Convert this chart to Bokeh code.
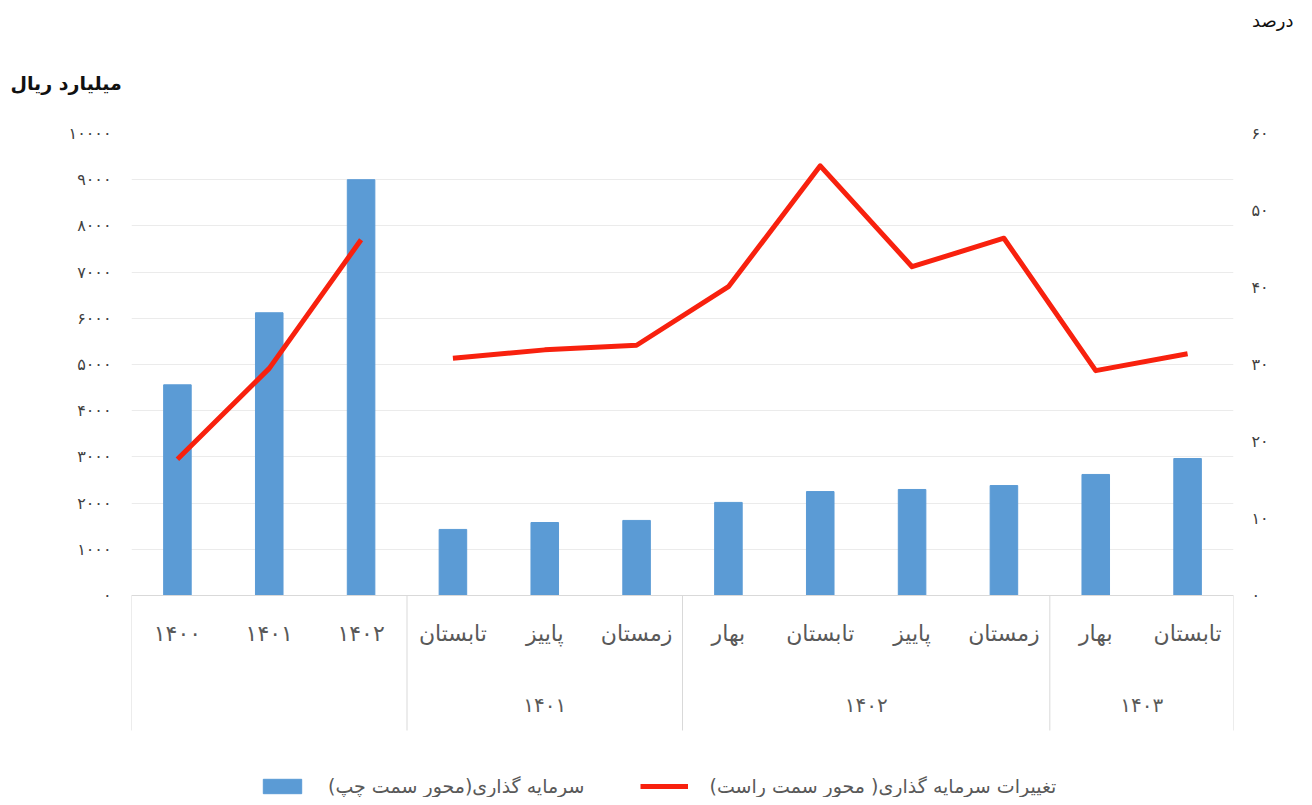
from bokeh.plotting import figure
from bokeh.models import (FactorRange, Range1d, LinearAxis, FixedTicker, Legend,
                          LegendItem, Title, ColumnDataSource)
from bokeh.transform import dodge
from bokeh.embed import file_html
from bokeh.resources import INLINE

# ---------------- data ----------------
groups = ["", "", "", "۱۴۰۱", "۱۴۰۱", "۱۴۰۱", "۱۴۰۲", "۱۴۰۲", "۱۴۰۲", "۱۴۰۲", "۱۴۰۳", "۱۴۰۳"]
periods = ["۱۴۰۰", "۱۴۰۱", "۱۴۰۲", "تابستان", "پاییز", "زمستان",
           "بهار", "تابستان", "پاییز", "زمستان", "بهار", "تابستان"]
investment = [4560, 6120, 9000, 1430, 1580, 1625, 2015, 2250, 2295, 2380, 2620, 2965]
change_annual = [17.7, 29.5, 46.2]
change_quarterly = [30.8, 31.9, 32.5, 40.1, 55.8, 42.7, 46.4, 29.2, 31.4]
left_ticks = [0, 1000, 2000, 3000, 4000, 5000, 6000, 7000, 8000, 9000, 10000]
left_tick_labels = ["۰", "۱۰۰۰", "۲۰۰۰", "۳۰۰۰", "۴۰۰۰", "۵۰۰۰", "۶۰۰۰", "۷۰۰۰", "۸۰۰۰", "۹۰۰۰", "۱۰۰۰۰"]
right_ticks = [0, 10, 20, 30, 40, 50, 60]
right_tick_labels = ["۰", "۱۰", "۲۰", "۳۰", "۴۰", "۵۰", "۶۰"]
group_starts = [0, 3, 6, 10]     # indices of first factor of each category group
left_title = "میلیارد ریال"
right_title = "درصد"
bar_name = "سرمایه گذاری(محور سمت چپ)"
line_name = "تغییرات سرمایه گذاری( محور سمت راست)"

FONT = "DejaVu Sans"
BLUE = "#5B9BD5"
RED = "#F8210E"
GREY = "#595959"
DARK = "#404040"
LIGHT = "#D9D9D9"

# ---------------- layout numbers (pixels) ----------------
W, H = 1296, 797
TOP, LEFT, RIGHT = 133, 131, 63
ZERO_PX = 462          # distance from frame top to the value-axis zero line
SEP_PX = 135           # separator length below the zero line
frame_h = H - TOP
left_max, right_max = 10000, 60
left_start = -(frame_h - ZERO_PX) / ZERO_PX * left_max
right_start = -(frame_h - ZERO_PX) / ZERO_PX * right_max
sep_end = -SEP_PX / ZERO_PX * left_max

# a blank middle level only adds vertical room between the two label rows
SPACER = " "
factors = [(g, SPACER, q) for g, q in zip(groups, periods)]
annual_x = factors[:3]
quarter_x = factors[3:]

p = figure(x_range=FactorRange(*factors, factor_padding=0, group_padding=0,
                               subgroup_padding=0, range_padding=0),
           y_range=Range1d(left_start, left_max),
           width=W, height=H, output_backend="svg", toolbar_location=None,
           min_border_left=LEFT, min_border_right=RIGHT, min_border_top=TOP,
           min_border_bottom=0)
p.outline_line_color = None
p.extra_y_ranges = {"pct": Range1d(right_start, right_max)}

src = ColumnDataSource(dict(x=factors, y=investment))
bars = p.vbar(x="x", top="y", width=0.3, source=src, color=BLUE)

l1 = p.line(x=annual_x, y=change_annual, y_range_name="pct", line_color=RED,
            line_width=5, line_join="round")
l2 = p.line(x=quarter_x, y=change_quarterly, y_range_name="pct", line_color=RED,
            line_width=5, line_join="round")

# group separators below the category axis
sep_src = ColumnDataSource(dict(x=[factors[i] for i in group_starts],
                                y0=[0] * len(group_starts),
                                y1=[sep_end] * len(group_starts)))
p.segment(x0=dodge("x", -0.5, range=p.x_range), x1=dodge("x", -0.5, range=p.x_range),
          y0="y0", y1="y1", source=sep_src, line_color=LIGHT, line_width=1)
end_src = ColumnDataSource(dict(x=[factors[-1]], y0=[0], y1=[sep_end]))
p.segment(x0=dodge("x", 0.5, range=p.x_range), x1=dodge("x", 0.5, range=p.x_range),
          y0="y0", y1="y1", source=end_src, line_color=LIGHT, line_width=1)

# grids
p.xgrid.grid_line_color = None
p.ygrid.ticker = FixedTicker(ticks=left_ticks)
p.ygrid.grid_line_color = "#EBEBEB"

# left axis
ya = p.yaxis[0]
ya.ticker = FixedTicker(ticks=left_ticks)
ya.major_label_overrides = {t: s for t, s in zip(left_ticks, left_tick_labels)}
ya.axis_line_color = None
ya.major_tick_line_color = None
ya.minor_tick_line_color = None
ya.major_label_standoff = 14
ya.major_label_text_font = FONT
ya.major_label_text_font_size = "16px"
ya.major_label_text_color = DARK

# right axis
ra = LinearAxis(y_range_name="pct", ticker=FixedTicker(ticks=right_ticks))
ra.major_label_overrides = {t: s for t, s in zip(right_ticks, right_tick_labels)}
ra.axis_line_color = None
ra.major_tick_line_color = None
ra.minor_tick_line_color = None
ra.major_label_standoff = 12
ra.major_label_text_font = FONT
ra.major_label_text_font_size = "16px"
ra.major_label_text_color = DARK
p.add_layout(ra, "right")

# x axis (categorical, nested levels) sitting on the zero line
xa = p.xaxis[0]
xa.fixed_location = 0
xa.axis_line_color = LIGHT
xa.major_tick_line_color = None
xa.minor_tick_line_color = None
xa.major_label_text_font = FONT
xa.major_label_text_font_size = "22px"
xa.major_label_text_color = GREY
xa.major_label_standoff = 19
xa.subgroup_text_font = FONT
xa.subgroup_text_font_size = "3px"
xa.subgroup_text_color = GREY
xa.subgroup_text_font_style = "normal"
xa.group_text_font = FONT
xa.group_text_font_size = "20px"
xa.group_text_color = GREY
xa.group_text_font_style = "normal"
xa.separator_line_color = None

# titles
p.add_layout(Title(text=left_title, align="left", offset=-121, standoff=79,
                   text_font=FONT, text_font_size="19px", text_font_style="bold",
                   text_color="#111111"), "above")
p.add_layout(Title(text=right_title, align="right", offset=-60, standoff=0,
                   text_font=FONT, text_font_size="18px", text_font_style="normal",
                   text_color="#111111"), "above")

legend = Legend(items=[LegendItem(label=bar_name, renderers=[bars]),
                       LegendItem(label=line_name, renderers=[l1])],
                orientation="horizontal", location=(127, 0),
                label_text_font=FONT, label_text_font_size="19px",
                label_text_color=GREY, glyph_width=48, glyph_height=18,
                label_standoff=22, spacing=55, padding=0, margin=0,
                border_line_color=None, background_fill_alpha=0)
p.add_layout(legend, "center")

open("out.html", "w").write(file_html(p, INLINE))
